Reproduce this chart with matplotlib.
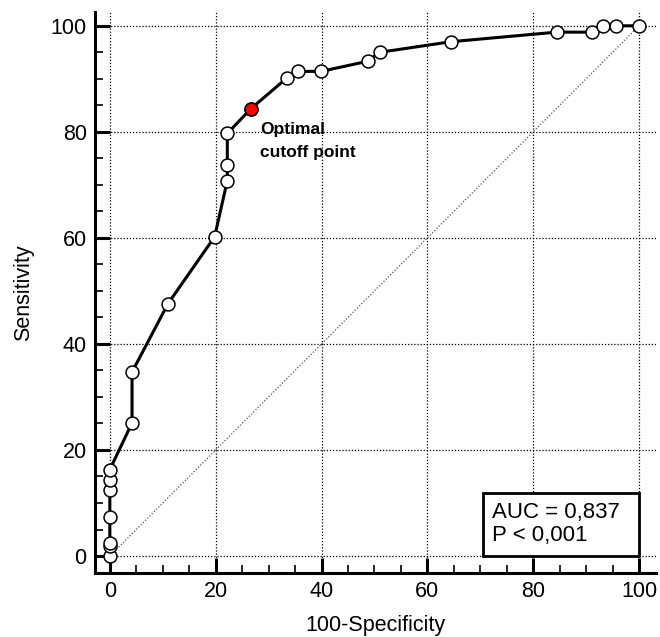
import numpy as np
import matplotlib
matplotlib.use("Agg")
import matplotlib.pyplot as plt
from matplotlib.patches import Rectangle
from matplotlib.ticker import MultipleLocator

#----- Data
fpr = [0, 0, 0, 0, 0, 0, 0, 4.2, 4.2, 11.0, 19.8, 22.2, 22.2, 22.2, 26.7,
       33.5, 35.5, 39.9, 48.7, 51.0, 64.5, 84.4, 91.1, 93.1, 95.7, 100]
tpr = [0, 1.8, 2.5, 7.4, 12.5, 14.4, 16.3, 25.1, 34.7, 47.6, 60.2, 70.8, 73.8, 79.7, 84.4,
       90.2, 91.4, 91.4, 93.3, 95.0, 97.0, 98.8, 98.8, 100, 100, 100]
opt_idx = 14
auc_text = "AUC = 0,837\nP < 0,001"
opt_text = "Optimal\ncutoff point"
x_ticks = [0, 20, 40, 60, 80, 100]
y_ticks = [0, 20, 40, 60, 80, 100]

plt.rcParams['font.family'] = ['Liberation Sans', 'DejaVu Sans']

fig = plt.figure(figsize=(6.6, 6.37), dpi=100)
ax = fig.add_axes([95/660, 1 - 573/637, (656-95)/660, (573-12)/637])

ax.set_xlim(-2.8, 103.2)
ax.set_ylim(-3.2, 102.6)

# grid + diagonal reference line
for v in x_ticks:
    ax.axvline(v, color='black', lw=0.9, ls=(0, (1, 1.5)), zorder=1)
for v in y_ticks:
    ax.axhline(v, color='black', lw=0.9, ls=(0, (1, 1.5)), zorder=1)
ax.plot([0, 100], [0, 100], color='#555555', lw=0.9, ls=(0, (1, 1.5)), zorder=1)

# ROC curve
ax.plot(fpr, tpr, color='black', lw=2.2, zorder=3)
ax.plot(fpr, tpr, 'o', ms=9.3, mfc='white', mec='black', mew=1.1, zorder=4)
ax.plot(fpr[opt_idx], tpr[opt_idx], 'o', ms=9.3, mfc='red', mec='black', mew=1.1, zorder=5)

ax.text(28.4, 81.9, opt_text, fontsize=12.5, fontweight='bold', ha='left', va='top',
        linespacing=1.7, zorder=6)

# AUC box
ax.add_patch(Rectangle((70.5, 0), 29.5, 11.9, facecolor='white', edgecolor='black',
                       lw=2.0, zorder=6))
ax.text(72.3, 10.2, auc_text, fontsize=16, ha='left', va='top', linespacing=1.12, zorder=7)

# axes styling
for s in ['top', 'right']:
    ax.spines[s].set_visible(False)
for s in ['left', 'bottom']:
    ax.spines[s].set_linewidth(2.2)
ax.set_xticks(x_ticks)
ax.set_yticks(y_ticks)
ax.xaxis.set_minor_locator(MultipleLocator(5))
ax.yaxis.set_minor_locator(MultipleLocator(5))
ax.tick_params(which='major', direction='in', length=10.5, width=2.2, labelsize=15.5, pad=6)
ax.tick_params(which='minor', direction='in', length=5.5, width=1.2)

ax.set_xlabel('100-Specificity', fontsize=15.5, labelpad=9)
ax.set_ylabel('Sensitivity', fontsize=15.5, labelpad=12)

fig.savefig('out.png', dpi=100)
